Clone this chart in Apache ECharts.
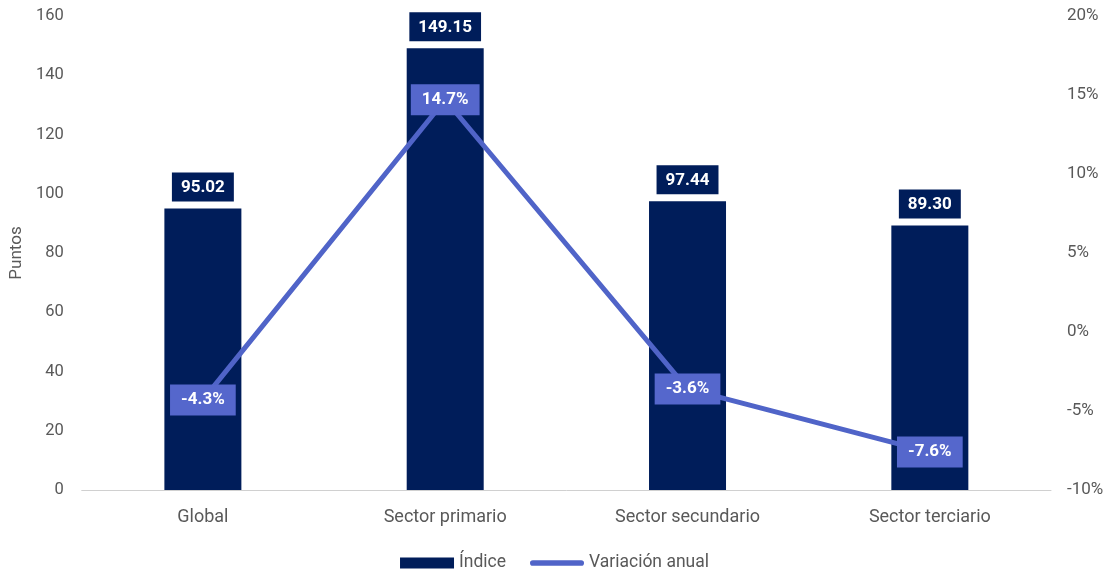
<!DOCTYPE html>
<html>
<head>
<meta charset="utf-8">
<script src="https://cdn.jsdelivr.net/npm/echarts@6/dist/echarts.min.js"></script>
<style>
  html, body { margin: 0; padding: 0; background: #fff; }
  #chart { width: 1109px; height: 571px; }
</style>
</head>
<body>
<div id="chart"></div>
<script>
// Index by sector and its annual variation
const categories = ['Global', 'Sector primario', 'Sector secundario', 'Sector terciario'];
const indexValues = [95.02, 149.15, 97.44, 89.30];
const annualChange = [-4.3, 14.7, -3.6, -7.6];

const chart = echarts.init(document.getElementById('chart'));
const FONT = 'Roboto, "Noto Sans", sans-serif';
const AXIS_TEXT = '#595959';
const NAVY = '#001d5a';
const BLUE = '#5064c8';

// thin rounded bar used as the line-series legend key
const LINE_KEY = 'path://M3,0 H54 A3,3 0 0 1 54,6 H3 A3,3 0 0 1 3,0 Z';

chart.setOption({
  animation: false,
  textStyle: { fontFamily: FONT },
  grid: { left: 81, right: 58, top: 16, bottom: 81 },
  legend: {
    top: 549,
    left: 'center',
    itemGap: 24,
    itemWidth: 54,
    itemHeight: 11,
    symbolKeepAspect: true,
    textStyle: { color: AXIS_TEXT, fontSize: 17.5, fontFamily: FONT },
    data: [
      { name: 'Índice', icon: 'rect' },
      { name: 'Variación anual', icon: LINE_KEY, itemStyle: { color: BLUE } }
    ]
  },
  xAxis: {
    type: 'category',
    data: categories,
    axisLine: { lineStyle: { color: '#d0d0d0', width: 1 } },
    axisTick: { show: false },
    axisLabel: { color: AXIS_TEXT, fontSize: 18, margin: 18 }
  },
  yAxis: [
    {
      type: 'value',
      min: 0, max: 160, interval: 20,
      name: 'Puntos',
      nameLocation: 'middle',
      nameGap: 54,
      nameRotate: 90,
      nameTextStyle: { color: AXIS_TEXT, fontSize: 17 },
      axisLine: { show: false },
      axisTick: { show: false },
      splitLine: { show: false },
      axisLabel: { color: AXIS_TEXT, fontSize: 16.5, margin: 18 }
    },
    {
      type: 'value',
      min: -10, max: 20, interval: 5,
      axisLine: { show: false },
      axisTick: { show: false },
      splitLine: { show: false },
      axisLabel: { color: AXIS_TEXT, fontSize: 17, margin: 16, formatter: '{value}%' }
    }
  ],
  series: [
    {
      name: 'Índice',
      type: 'bar',
      data: indexValues,
      barWidth: 77,
      itemStyle: { color: NAVY },
      label: {
        show: true,
        position: 'top',
        distance: 7,
        formatter: p => p.value.toFixed(2),
        color: '#fff',
        fontWeight: 'bold',
        fontSize: 17,
        backgroundColor: NAVY,
        padding: [7, 9, 5, 9]
      }
    },
    {
      name: 'Variación anual',
      type: 'line',
      yAxisIndex: 1,
      data: annualChange,
      symbol: 'circle',
      symbolSize: 0,
      showSymbol: true,
      lineStyle: { color: BLUE, width: 5 },
      itemStyle: { color: BLUE },
      label: {
        show: true,
        position: 'inside',
        formatter: p => p.value.toFixed(1) + '%',
        color: '#fff',
        fontWeight: 'bold',
        fontSize: 17,
        backgroundColor: '#5567cc',
        padding: [8, 11, 6, 11]
      }
    }
  ]
});
</script>
</body>
</html>
